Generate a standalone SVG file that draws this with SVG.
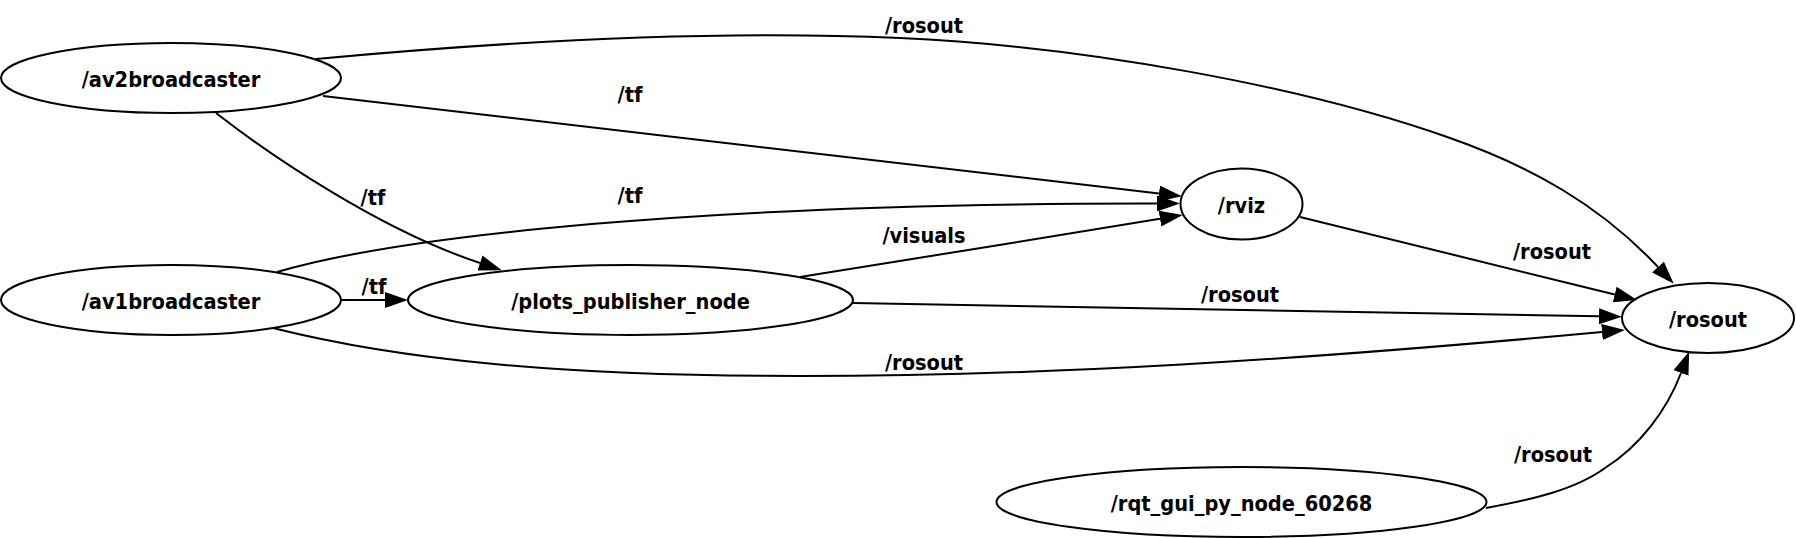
<svg xmlns="http://www.w3.org/2000/svg" width="1796" height="538" viewBox="0 0 1796 538">
<style>
.node ellipse{fill:none;stroke:#000;stroke-width:2}
.node text,.lbl{font-family:"DejaVu Sans Condensed","DejaVu Sans","Liberation Sans",sans-serif;font-stretch:condensed;font-weight:bold;font-size:21.6px;fill:#000;text-anchor:middle}
.edge{fill:none;stroke:#000;stroke-width:2;marker-end:url(#arr)}
</style>
<defs>
<marker id="arr" markerUnits="userSpaceOnUse" viewBox="0 0 23 16" markerWidth="23" markerHeight="16" refX="0" refY="8" orient="auto">
<path d="M0,0 L23,8 L0,16 z" fill="#000"/>
</marker>
</defs>
<rect width="1796" height="538" fill="#fff"/>
<g id="connectors">
<path class="edge" d="M316,59 C520,40 720,30 900,38 C1080,46 1300,85 1450,138 C1530,166 1600,205 1658,267"/>
<path class="edge" d="M323,96 L1159,193.5"/>
<path class="edge" d="M216,113 C270,155 380,230 480,263"/>
<path class="edge" d="M277,272 C400,236 700,203 1157,203.5"/>
<path class="edge" d="M342,300 L385,300"/>
<path class="edge" d="M800,277 C900,261 1050,237 1160,218.7"/>
<path class="edge" d="M853,303 L1599,316.3"/>
<path class="edge" d="M273,328 C400,360 560,376 800,376 C1050,376 1300,360 1602,332"/>
<path class="edge" d="M1300,217 L1614.7,294.5"/>
<path class="edge" d="M1486,508 C1530,500 1575,490 1605,468 C1640,446 1667,410 1681,373"/>
<text class="lbl" x="924" y="33">/rosout</text>
<text class="lbl" x="630" y="102">/tf</text>
<text class="lbl" x="373" y="205">/tf</text>
<text class="lbl" x="630" y="203">/tf</text>
<text class="lbl" x="374" y="294">/tf</text>
<text class="lbl" x="924" y="243">/visuals</text>
<text class="lbl" x="1240" y="302">/rosout</text>
<text class="lbl" x="1552" y="259">/rosout</text>
<text class="lbl" x="924" y="370">/rosout</text>
<text class="lbl" x="1553" y="462">/rosout</text>
</g>
<g id="av2broadcaster" class="node"><ellipse cx="171" cy="78" rx="170" ry="35"/><text x="171" y="86.5">/av2broadcaster</text></g>
<g id="av1broadcaster" class="node"><ellipse cx="171" cy="300" rx="170" ry="35"/><text x="171" y="308.5">/av1broadcaster</text></g>
<g id="plots_publisher_node" class="node"><ellipse cx="630.5" cy="300" rx="222.5" ry="35"/><text x="630.5" y="308.5">/plots_publisher_node</text></g>
<g id="rviz" class="node"><ellipse cx="1241.5" cy="204" rx="61" ry="35.5"/><text x="1241.5" y="212.5">/rviz</text></g>
<g id="rosout" class="node"><ellipse cx="1708" cy="318" rx="86" ry="35"/><text x="1708" y="326.5">/rosout</text></g>
<g id="rqt_gui_py_node_60268" class="node"><ellipse cx="1241.5" cy="502" rx="245" ry="35"/><text x="1241.5" y="510.5">/rqt_gui_py_node_60268</text></g>
</svg>
